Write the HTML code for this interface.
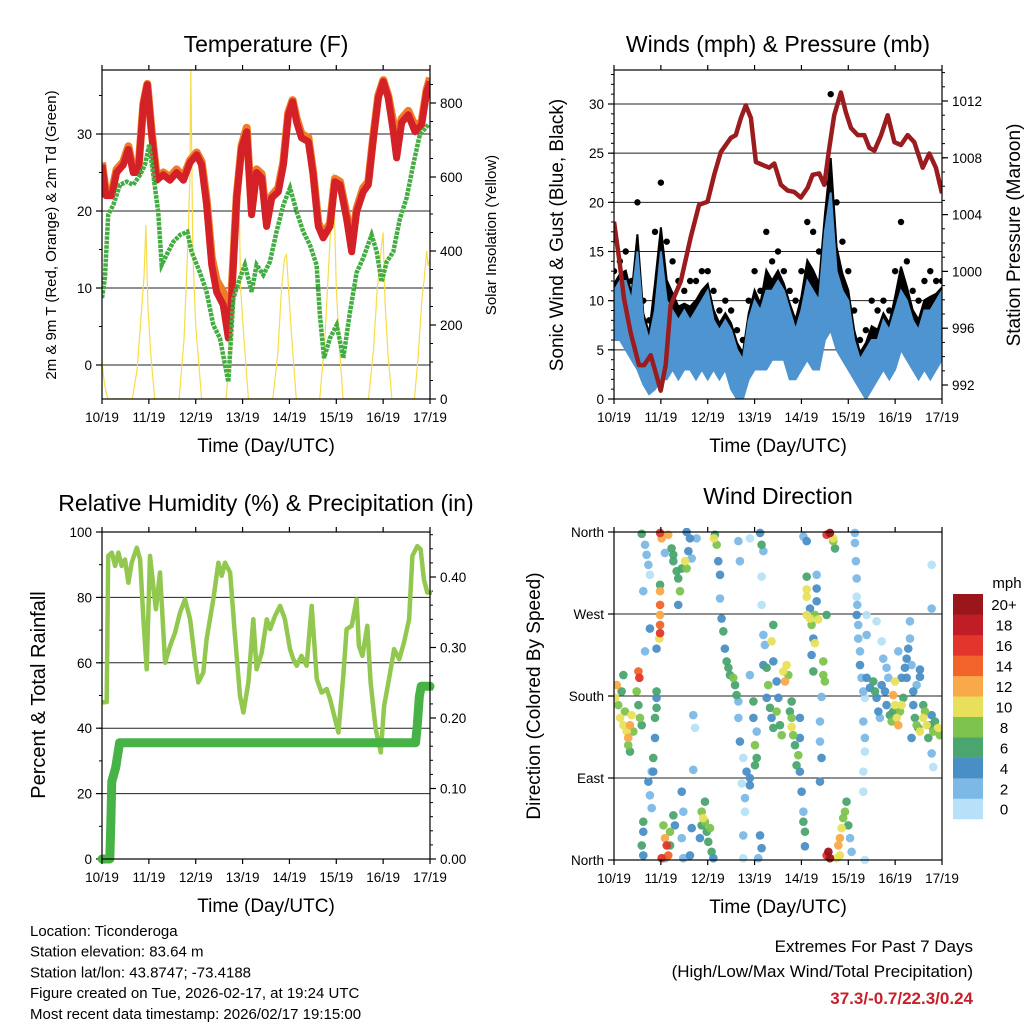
<!DOCTYPE html>
<html><head><meta charset="utf-8"><title>Ticonderoga station plots</title>
<style>
html,body{margin:0;padding:0;background:#fff;}
svg{display:block;font-family:"Liberation Sans",Arial,sans-serif;}
</style></head>
<body>
<svg id="chart" width="1024" height="1024" viewBox="0 0 1024 1024" xmlns="http://www.w3.org/2000/svg"></svg>
<script>
// ---------- DATA ----------
const dayLabels = ['10/19','11/19','12/19','13/19','14/19','15/19','16/19','17/19'];
// Temperature (F)
const t2mHours = [0,2,5,7.5,10.9,13.5,16,18.6,21.2,23.2,25.4,28,31.4,34.8,38.2,41.7,45.1,48.5,51,53.6,56.2,58.7,62.1,64.7,66.4,69,71.5,74.1,76.6,79.2,81.8,84.3,86.9,90.3,92.9,95.4,97.6,99.7,102.2,105.7,108.2,110.8,113.3,116.8,119.3,121.9,125.3,127.9,130.4,133.8,136.4,139,141.5,144.1,146.6,149.2,150.9,153.5,156.9,160.3,163.7,166.3,168];
const temp2m = [26,22,22,25,26,28,25,25,33.8,36.4,30,24,24.7,24,25,24,26.3,27.3,26,20.8,13,9.5,7.8,3.5,8.7,21.7,28.2,30.3,19.5,25,24.3,18,21.7,22.5,26,32.5,34.2,31.5,29.5,29,24.7,18,16.5,18,23.8,23.4,19,14.7,19.9,22.5,23.4,29.5,34.7,36.8,34.7,30.3,26.9,31.5,32.5,30.3,31.2,35.5,36.8];
const temp9m = [26.3,22.4,22.5,25.4,26.4,28.4,25.4,25.3,34,36.5,30.4,24.4,25,24.4,25.4,24.4,26.6,27.6,26.4,21.5,14,11,9.5,5,9.5,22,28.5,30.8,20,25.4,24.8,18.6,22,23,26.4,32.8,34.4,32,30,29.5,25,18.5,17,18.4,24.2,23.8,19.6,15.5,20.3,23,23.8,29.8,35,37,35,31.5,29,32,33,31,31.6,35.8,37.3];
const tdHours = [0,1.5,3.2,5.8,9.2,12.6,16,19.5,22,24.2,26.3,28.8,30.6,33.1,36.5,40,43.7,45.9,50.2,53.6,57,60.4,64.7,67.3,70.7,73.2,76.6,79.2,82.6,86,89.4,92.9,96.3,99.7,103.1,106.5,109.9,111.6,113.7,116.8,120.2,123.6,127,130.4,133.8,138.1,140.7,143.2,145.8,149.2,152.6,156,159.4,162.8,167.1];
const dew2m = [8.7,11.3,19.5,20.8,23.4,23.8,23.4,24.7,26,28.6,24.7,19.9,13,14.3,16,16.9,17.3,14.7,12,9.5,5.2,3.5,-2.2,8.7,11.3,13,9.5,13,11.7,13.4,17.3,20.8,23,19.9,17.3,15.6,13,6.5,0.9,3.5,5.2,0.9,6.9,12,13.9,16.9,14.7,10.8,13.4,14.7,19,21.7,26,29.9,31.2];
const solarHours = [0,1,2,3, 15.5,18,20,21.5,22.5,23.5,25,27, 39.5,42,44,45,45.5,46.5,48,51, 63.5,66,68,69,70,71,72.5,75, 87.5,90,92,93.5,94.5,96,97.5,99.5, 111.5,114,116,117.5,118.5,120,121.5,123.5, 136.5,139,141,142.5,144,145,146.5,148.5, 160,162,164,165,166.3,167,168];
const solarValues = [100,50,20,0, 0,80,220,330,470,250,120,0, 0,160,420,600,890,400,200,0, 0,150,400,560,600,300,180,0, 0,120,300,380,390,260,140,0, 0,150,350,500,610,300,150,0, 0,130,300,380,450,260,120,0, 0,120,280,320,400,360,380];
// Winds (mph) every 3 hours
const windHours = [0,3,6,9,12,15,18,21,24,27,30,33,36,39,42,45,48,51,54,57,60,63,66,69,72,75,78,81,84,87,90,93,96,99,102,105,108,111,114,117,120,123,126,129,132,135,138,141,144,147,150,153,156,159,162,165,168];
const windLow = [6,6,5,4,3,1.5,0.5,1,2,2,3,2,3,3,2,3,2,3,2,3,1,0,0,2,3,3,3,4,4,4,2,2,3,4,3,3,6,7,5,4,3,2,1,0,1,2,3,2,3,5,4,3,2,3,2,3,4];
const windHigh = [11,12,12,10,15,8,6,9,15,10,9,8,9,8,9,10,11,8,7,8,7,5,4,8,10,9,11,11,12,11,9,7,9,12,11,10,17,21,13,11,10,6,4,5,6,6,8,7,9,11,10,8,7,9,9,10,11];
const windGust = [13,14,15,12,20,10,8,17,22,16,14,12,11,12,12,13,13,11,9,10,9,7,6,10,13,11,17,14,15,13,11,10,13,18,17,15,22,31,20,16,13,9,6,7,10,9,10,9,13,18,14,11,10,12,13,12,12];
// Station pressure (mb)
const presHours = [0,2.6,5.1,8.5,12.8,15.4,18.8,21.3,23.9,26.5,29.0,34.2,39.3,43.6,47.9,51.3,54.7,59.8,62.4,65,67.5,70.1,72.7,76.1,79.5,82.1,85.5,88.9,92.3,95.7,99.2,101.7,105.1,107.7,110.3,112.8,116.2,118.8,121.4,124.8,128.2,130.8,133.4,136.8,140.2,143.6,147,150.4,153.8,158.1,161.5,164.9,168];
const pressure = [1003.5,1000.9,998.1,995.7,993.4,993.4,994.1,992.9,991.6,993.4,997.6,999.3,1002.4,1004.7,1004.9,1006.8,1008.4,1009.4,1009.6,1010.8,1011.7,1010.8,1007.7,1007.5,1007.3,1007.6,1006.1,1005.7,1005.6,1005.2,1005.9,1006.8,1006.9,1006.1,1008.7,1011,1012.6,1011.2,1010.1,1009.6,1009.6,1008.7,1008.5,1009.6,1011,1009.1,1008.9,1009.6,1009.1,1007.3,1008.3,1007.3,1005.5];
// Relative humidity (%)
const rhHours = [0,2.4,3.2,5,6.7,8.4,10.1,11.8,13.5,15.2,17.8,19.5,21.2,22.9,24.6,26.3,27.6,29.7,32.3,34.8,37.4,40,42.5,45.1,47.6,49.3,51.9,53.6,57,59.6,61.3,63,65.6,68.1,70.7,72.4,75,77.5,79.2,81.8,84.4,86.1,88.6,91.2,93.7,96.3,98,99.7,102.2,104.8,107.4,110,112.5,115.1,116.8,118.5,121.1,123.6,125.3,127.9,130.4,131.6,133.4,135.9,137.6,140.2,142.8,144.5,147,149.6,152.2,154.7,157.3,159,161.5,163.2,164.9,166.6,169];
const rhValues = [47.9,48,92.7,93.7,89.6,93.7,89.6,91.6,84.5,90.6,95.2,91.6,73.3,58,92.7,83.5,76.4,87.6,60,65,69.2,75.4,79.4,73.3,61.1,54,57,67.2,79.4,90.6,86.6,90.6,87.6,68.2,49.9,44.8,54,73.3,58,63.1,73.3,70.3,74.3,77.4,73.3,64.2,61.1,59.1,62.1,59.1,77.4,55,50.9,52,48.9,44.8,38.7,56,70.3,71.3,79.4,65.2,62.1,71.3,54,39.7,32.6,46.8,55,64.2,61.1,66.2,73.3,92.7,95.7,94.7,85.5,81.5,81.5];
// Precipitation (in, cumulative)
const precipHours = [0,4,4.5,5,7,9,160.6,161.5,162.5,163.5,168];
const precipValues = [0,0,0.05,0.11,0.13,0.165,0.165,0.19,0.23,0.245,0.245];
// Wind direction scatter
const dirHours = [
0.5,1.4,2.2,3.1,3.9,4.8,4.8,5.6,6.5,7.3,8.2,7.3,8.2,9,9.9,
12.5,13,11.6,12.5,13.3,14.2,14.2,15.9,16.7,17.6,18.4,15,15,15,14.2,15,15.9,18.4,19.3,17.6,18.4,19.3,
23.6,24.4,23.6,23.6,23.6,23.6,23.6,23.6,23.2,21.8,21.8,21.8,21.8,21,21,20.1,20.1,25.3,26.1,27,24.4,27.8,28.7,28.7,26.1,27.8,29.5,30.4,32.1,30.4,26.1,
32.9,33.8,32.9,34.7,36.4,37.2,38.1,38.9,37.2,39.8,42.3,40.6,41.5,40.6,34.7,35.5,30.4,31.2,34.7,39.8,38.9,35.5,
44.9,46.6,47.5,49.2,44,45.7,48.3,50,46.6,44.9,50.9,
51.7,52.6,51.2,53.4,54.3,63.7,64.5,54.3,55.1,56,56.8,57.7,58.6,59.4,61.1,62,62.8,63.7,63.7,64.5,66.2,65.4,67.9,69.6,67.1,67.1,66.2,66.2,
69.6,74.8,75.6,76.5,75.6,75.6,69.6,71.4,71.4,73.1,72.2,73.1,72.2,69.6,74.8,75.6,73.9,76.5,77.3,76.5,
78.2,79,78.2,79.9,80.7,81.6,83.3,84.2,85,85.9,86.7,87.6,88.4,89.3,80.7,81.6,81.6,83.3,91,91,91.8,92.7,94.4,95.2,96.1,97,97.8,97.8,95.2,95.2,93.5,97,91,90.1,
97,98.7,98.7,98.7,98.7,100.4,103.8,103.8,98.7,100.4,102.9,104.6,101.2,102.1,102.9,101.2,102.1,107.2,107.2,108,106.3,105.5,105.5,106.3,105.5,103.8,108.9,108.9,110.6,112.3,113.2,112.3,109.8,110.6,108.9,114.9,115.7,116.6,117.4,118.3,119.1,120,120.9,121.7,115.7,114,
123.4,123.4,123.9,124.3,124.3,124.6,124.3,125.1,125.1,126,126,126.8,127.7,128.5,129.4,129.4,127.7,128.5,128.5,127.7,127.7,129.4,131.1,132.8,133.7,134.5,135.4,136.2,134.5,137.1,137.9,128.5,
137.1,138.8,139.6,140.5,139.6,141.3,142.2,143,143.9,143.9,144.8,145.6,146.5,147.3,148.2,143,149,149.9,149.9,150.7,151.6,151.6,152.4,153.3,156.7,156.7,155,145.6,147.3,
153.3,154.1,155,156.7,158.4,159.3,160.1,161,161.8,162.7,163.5,164.4,166.1,166.9,158.4,162.7,162.7,162.7,163.5,152.4,155.8];
const dirDeg = [
178,192,170,156,185,203,148,163,141,134,148,126,119,159,141,
207,200,185,170,156,148,358,346,335,324,313,295,42,31,16,5,229,254,97,86,71,57,
359,353,302,295,280,269,258,249,243,232,185,178,167,156,134,112,97,38,24,16,2,5,16,31,2,357,342,328,317,335,337,
309,295,280,320,328,320,339,353,360,331,353,159,145,99,75,53,49,38,24,35,5,2,
38,42,31,35,24,46,20,9,64,53,2,
357,346,353,328,313,350,328,287,265,251,232,218,211,203,200,192,181,174,156,130,112,84,97,82,68,53,27,2,
353,359,346,339,311,280,203,174,156,141,126,112,104,90,27,13,2,247,236,214,
211,192,178,167,156,145,163,178,148,137,207,196,214,203,240,258,218,196,174,156,137,126,115,97,75,53,31,15,156,134,104,42,146,163,
355,350,311,297,289,276,298,284,269,265,269,264,258,243,238,225,207,218,203,196,179,152,130,112,86,313,269,357,359,353,342,350,9,2,5,16,24,35,46,53,64,38,24,9,5,2,
359,348,328,309,289,280,269,258,243,229,214,200,185,178,269,247,152,134,119,97,75,200,189,196,185,178,163,156,262,240,221,0,
192,185,170,200,211,159,152,181,196,170,156,148,163,170,178,163,211,221,200,232,262,243,214,185,209,201,192,229,200,
170,156,148,141,156,163,148,134,148,159,141,152,145,137,170,276,324,117,102,134,145];
const dirSpeed = [
10,12,8,10,6,6,10,8,10,12,12,8,6,10,8,
14,16,8,6,8,6,6,2,2,2,0.5,2,6,4,6,4,2,4,2,4,2,2,
16,12,6,12,14,12,14,16,10,4,6,4,6,6,4,6,4,8,12,16,16,14,6,8,2,12,6,6,6,6,2,
6,8,4,6,10,8,4,4,4,2,2,2,0.5,2,4,2,6,4,2,4,4,2,
6,8,6,8,4,10,6,6,6,8,4,
6,8,10,4,4,2,2,2,4,6,4,6,6,6,8,6,6,2,2,4,0.5,0.5,4,4,2,0.5,2,0.5,
0.5,4,6,2,0.5,0.5,2,6,4,2,8,6,6,4,4,4,2,2,2,4,
6,8,4,6,4,6,8,4,6,8,10,12,10,8,10,6,4,4,6,8,8,6,8,4,4,2,6,4,4,4,6,6,10,6,
2,4,6,10,10,4,4,4,10,10,8,10,8,4,10,4,6,8,8,8,2,2,2,4,4,2,6,16,21,10,6,8,21,21,16,12,12,10,8,8,6,6,2,2,10,10,
2,2,2,2,0.5,2,4,2,2,2,4,2,2,0.5,0.5,2,2,2,0.5,0.5,0.5,4,4,6,6,4,4,2,0.5,0.5,2,0.5,
4,4,4,2,2,6,8,12,10,10,10,12,8,10,6,6,4,4,4,4,2,2,2,4,4,4,2,2,4,
4,6,8,10,10,8,10,6,6,4,8,6,10,8,6,2,0.5,2,0.5,4,6];
const speedLabels = ['0','2','4','6','8','10','12','14','16','18','20+'];
const speedColors = ['#b6e1f8','#7cb9e6','#4a8ec6','#4aa56f','#7dc34e','#e8e05a','#f9a94a','#f26429','#e2352b','#c11d27','#9a161b'];

// ---------- HELPERS ----------
const NS = 'http://www.w3.org/2000/svg';
const svg = document.getElementById('chart');
function mk(tag, attrs, parent) {
  const e = document.createElementNS(NS, tag);
  for (const k in attrs) e.setAttribute(k, attrs[k]);
  (parent || svg).appendChild(e);
  return e;
}
function lin(d0, d1, r0, r1) { return v => r0 + (v - d0) * (r1 - r0) / (d1 - d0); }
function txt(x, y, s, size, anchor, parent, extra) {
  const t = mk('text', Object.assign({x: x, y: y, 'font-size': size, 'text-anchor': anchor || 'middle', fill: '#000'}, extra || {}), parent);
  t.textContent = s;
  return t;
}
function pathFrom(xs, ys, fx, fy) {
  let d = '';
  for (let i = 0; i < xs.length; i++) d += (i ? 'L' : 'M') + fx(xs[i]).toFixed(1) + ',' + fy(ys[i]).toFixed(1);
  return d;
}

function frame(g, P, name) {
  const r = mk('rect', {x: P.x0, y: P.y0, width: P.x1 - P.x0, height: P.y1 - P.y0, fill: 'none', stroke: '#000', 'stroke-width': 1.2}, g);
  
  
}
function xAxis(g, P, fx, name) {
  const ax = mk('g', {}, g);
  
  
  for (let i = 0; i < dayLabels.length; i++) {
    const x = fx(i * 24);
    mk('line', {x1: x, x2: x, y1: P.y1, y2: P.y1 + 5, stroke: '#000', 'stroke-width': 1.2}, ax);
    mk('line', {x1: x, x2: x, y1: P.y0, y2: P.y0 - 5, stroke: '#000', 'stroke-width': 1.2}, ax);
    const t = txt(x, P.y1 + 23, dayLabels[i], 13.5, 'middle', ax);
    
    
  }
  const tt = txt((P.x0 + P.x1) / 2, P.y1 + 53, 'Time (Day/UTC)', 19, 'middle', ax);
  
  
}
function yAxis(g, P, fy, majors, labels, minorStep, side, name, grid) {
  const ax = mk('g', {}, g);
  
  
  const xe = side === 'left' ? P.x0 : P.x1;
  const dir = side === 'left' ? -1 : 1;
  if (minorStep) {
    const lo = Math.ceil(Math.min(fy.inv(P.y1), fy.inv(P.y0)) / minorStep) * minorStep;
    const hi = Math.max(fy.inv(P.y1), fy.inv(P.y0));
    for (let v = lo; v <= hi + 1e-9; v += minorStep) {
      const y = fy(v);
      mk('line', {x1: xe, x2: xe + dir * 3, y1: y, y2: y, stroke: '#000', 'stroke-width': 1}, ax);
    }
  }
  for (let i = 0; i < majors.length; i++) {
    const y = fy(majors[i]);
    mk('line', {x1: xe, x2: xe + dir * 6, y1: y, y2: y, stroke: '#000', 'stroke-width': 1.2}, ax);
    if (grid) mk('line', {x1: P.x0, x2: P.x1, y1: y, y2: y, stroke: '#222', 'stroke-width': 1}, ax);
    const t = txt(xe + dir * 10, y + 5, labels[i], 13.5, side === 'left' ? 'end' : 'start', ax);
    
    
  }
}
function scaleY(d0, d1, r0, r1) { const f = lin(d0, d1, r0, r1); f.inv = lin(r0, r1, d0, d1); return f; }
function rotTitle(g, x, y, s, size, name) {
  const t = txt(x, y, s, size, 'middle', g, {transform: 'rotate(-90 ' + x + ' ' + y + ')'});
  
  
}
function title(g, x, y, s, name) {
  const t = txt(x, y, s, 23, 'middle', g);
  
  
}

// ---------- PANEL 1: TEMPERATURE ----------
(function () {
  const P = {x0: 102, x1: 430, y0: 70, y1: 399};
  const g = mk('g', {});
  
  
  const fx = lin(0, 168, P.x0, P.x1);
  const fy = scaleY(0, 30, 365, 134);
  const fs = scaleY(0, 800, 399, 103);
  const clip = mk('clipPath', {id: 'c1'}, g);
  mk('rect', {x: P.x0, y: P.y0, width: P.x1 - P.x0, height: P.y1 - P.y0}, clip);
  yAxis(g, P, fy, [0, 10, 20, 30], ['0', '10', '20', '30'], 5, 'left', 'temperature-y-axis', true);
  yAxis(g, P, fs, [0, 200, 400, 600, 800], ['0', '200', '400', '600', '800'], 50, 'right', 'solar-y-axis', false);
  const s = mk('path', {d: pathFrom(solarHours, solarValues, fx, fs), fill: 'none', stroke: '#f7dc4a', 'stroke-width': 1.2, 'clip-path': 'url(#c1)'}, g);
  
  
  const o = mk('path', {d: pathFrom(t2mHours, temp9m, fx, fy), fill: 'none', stroke: '#f07c28', 'stroke-width': 8, 'stroke-linejoin': 'round', 'clip-path': 'url(#c1)'}, g);
  
  
  const r = mk('path', {d: pathFrom(t2mHours, temp2m, fx, fy), fill: 'none', stroke: '#d42027', 'stroke-width': 7, 'stroke-linejoin': 'round', 'clip-path': 'url(#c1)'}, g);
  
  
  const d = mk('path', {d: pathFrom(tdHours, dew2m, fx, fy), fill: 'none', stroke: '#43ad43', 'stroke-width': 4.5, 'stroke-dasharray': '3.5 1', 'clip-path': 'url(#c1)'}, g);
  
  
  frame(g, P, 'temperature');
  xAxis(g, P, fx, 'temperature');
  title(g, 266, 52, 'Temperature (F)', 'temperature-title');
  rotTitle(g, 56, 235, '2m & 9m T (Red, Orange) & 2m Td (Green)', 15, 'temperature-y-title');
  rotTitle(g, 496, 235, 'Solar Insolation (Yellow)', 15, 'solar-y-title');
})();

// ---------- PANEL 2: WINDS & PRESSURE ----------
(function () {
  const P = {x0: 614, x1: 942, y0: 70, y1: 399};
  const g = mk('g', {});
  
  
  const fx = lin(0, 168, P.x0, P.x1);
  const fy = scaleY(0, 30, 399, 104);
  const fp = scaleY(992, 1012, 385, 101);
  const clip = mk('clipPath', {id: 'c2'}, g);
  mk('rect', {x: P.x0, y: P.y0, width: P.x1 - P.x0, height: P.y1 - P.y0}, clip);
  yAxis(g, P, fy, [0, 5, 10, 15, 20, 25, 30], ['0', '5', '10', '15', '20', '25', '30'], 1, 'left', 'wind-y-axis', true);
  yAxis(g, P, fp, [992, 996, 1000, 1004, 1008, 1012], ['992', '996', '1000', '1004', '1008', '1012'], 1, 'right', 'pressure-y-axis', false);
  let up = '', dn = '';
  for (let i = 0; i < windHours.length; i++) {
    up += (i ? 'L' : 'M') + fx(windHours[i]).toFixed(1) + ',' + fy(windHigh[i] + 0.35 * (windGust[i] - windHigh[i])).toFixed(1);
  }
  for (let i = windHours.length - 1; i >= 0; i--) dn += 'L' + fx(windHours[i]).toFixed(1) + ',' + fy(windHigh[i]).toFixed(1);
  const gb = mk('path', {d: up + dn + 'Z', fill: '#000', stroke: '#000', 'stroke-width': 2, 'clip-path': 'url(#c2)'}, g);
  
  
  for (let i = 0; i < windHours.length; i++) {
    const c = mk('circle', {cx: fx(windHours[i]), cy: fy(windGust[i]), r: 3.2, fill: '#000', 'clip-path': 'url(#c2)'}, g);
    
    
  }
  let a = '', b = '';
  for (let i = 0; i < windHours.length; i++) a += (i ? 'L' : 'M') + fx(windHours[i]).toFixed(1) + ',' + fy(windHigh[i]).toFixed(1);
  for (let i = windHours.length - 1; i >= 0; i--) b += 'L' + fx(windHours[i]).toFixed(1) + ',' + fy(windLow[i]).toFixed(1);
  const wb = mk('path', {d: a + b + 'Z', fill: '#4d94d1', stroke: '#4d94d1', 'stroke-width': 2, 'clip-path': 'url(#c2)'}, g);
  
  
  const p = mk('path', {d: pathFrom(presHours, pressure, fx, fp), fill: 'none', stroke: '#9b1c1f', 'stroke-width': 4.5, 'stroke-linejoin': 'round', 'clip-path': 'url(#c2)'}, g);
  
  
  frame(g, P, 'winds');
  xAxis(g, P, fx, 'winds');
  title(g, 778, 52, 'Winds (mph) & Pressure (mb)', 'winds-title');
  rotTitle(g, 563, 235, 'Sonic Wind & Gust (Blue, Black)', 19, 'wind-y-title');
  rotTitle(g, 1020, 235, 'Station Pressure (Maroon)', 19, 'pressure-y-title');
})();

// ---------- PANEL 3: RH & PRECIP ----------
(function () {
  const P = {x0: 102, x1: 430, y0: 532, y1: 859};
  const g = mk('g', {});
  
  
  const fx = lin(0, 168, P.x0, P.x1);
  const fy = scaleY(0, 100, 859, 532);
  const fr = scaleY(0, 0.4, 859, 577);
  const clip = mk('clipPath', {id: 'c3'}, g);
  mk('rect', {x: P.x0 - 5, y: P.y0, width: P.x1 - P.x0 + 10, height: P.y1 - P.y0 + 5}, clip);
  yAxis(g, P, fy, [0, 20, 40, 60, 80, 100], ['0', '20', '40', '60', '80', '100'], 10, 'left', 'rh-y-axis', true);
  yAxis(g, P, fr, [0, 0.1, 0.2, 0.3, 0.4], ['0.00', '0.10', '0.20', '0.30', '0.40'], 0.02, 'right', 'precip-y-axis', false);
  const rh = mk('path', {d: pathFrom(rhHours, rhValues, fx, fy), fill: 'none', stroke: '#92c84f', 'stroke-width': 4.5, 'stroke-linejoin': 'round', 'clip-path': 'url(#c3)'}, g);
  
  
  const pr = mk('path', {d: pathFrom(precipHours, precipValues, fx, fr), fill: 'none', stroke: '#47b347', 'stroke-width': 9, 'stroke-linejoin': 'round', 'stroke-linecap': 'round', 'clip-path': 'url(#c3)'}, g);
  
  
  frame(g, P, 'humidity');
  xAxis(g, P, fx, 'humidity');
  title(g, 266, 511, 'Relative Humidity (%) & Precipitation (in)', 'humidity-title');
  rotTitle(g, 45, 695, 'Percent & Total Rainfall', 20, 'rh-y-title');
})();

// ---------- PANEL 4: WIND DIRECTION ----------
(function () {
  const P = {x0: 614, x1: 942, y0: 532, y1: 860};
  const g = mk('g', {});
  
  
  const fx = lin(0, 168, P.x0, P.x1);
  const fy = scaleY(0, 360, 860, 532);
  const clip = mk('clipPath', {id: 'c4'}, g);
  mk('rect', {x: P.x0, y: P.y0 - 4, width: P.x1 - P.x0, height: P.y1 - P.y0 + 8}, clip);
  yAxis(g, P, fy, [0, 90, 180, 270, 360], ['North', 'East', 'South', 'West', 'North'], 0, 'left', 'direction-y-axis', true);
  const order = dirSpeed.map((s, i) => i).sort((a, b) => dirSpeed[a] - dirSpeed[b]);
  for (const i of order) {
    const bin = Math.min(10, Math.round(dirSpeed[i] / 2));
    const c = mk('circle', {cx: fx(dirHours[i]), cy: fy(dirDeg[i]), r: 4.3, fill: speedColors[bin], 'fill-opacity': 0.95, 'clip-path': 'url(#c4)'}, g);
    
    
  }
  frame(g, P, 'direction');
  xAxis(g, P, fx, 'direction');
  title(g, 778, 504, 'Wind Direction', 'direction-title');
  rotTitle(g, 540, 696, 'Direction (Colored By Speed)', 19, 'direction-y-title');
  const cb = mk('g', {}, g);
  
  
  const boxH = 20.45;
  for (let i = 0; i < speedColors.length; i++) {
    const y = 594 + (10 - i) * boxH;
    const rct = mk('rect', {x: 953, y: y, width: 30, height: boxH + 0.3, fill: speedColors[i]}, cb);
    
    
    const t = txt(1004, y + boxH / 2 + 6, speedLabels[i], 15, 'middle', cb);
    
    
  }
  const mu = txt(1007, 588, 'mph', 15, 'middle', cb);
  
  
})();

// ---------- FOOTER TEXT ----------
(function () {
  const g = mk('g', {});
  
  
  const lines = ['Location: Ticonderoga', 'Station elevation: 83.64 m', 'Station lat/lon: 43.8747; -73.4188', 'Figure created on Tue, 2026-02-17, at 19:24 UTC', 'Most recent data timestamp: 2026/02/17 19:15:00'];
  for (let i = 0; i < lines.length; i++) {
    const t = txt(30, 936 + i * 20.7, lines[i], 15, 'start', g);
    
    
  }
  const e = mk('g', {});
  
  
  const a = txt(973, 952, 'Extremes For Past 7 Days', 17, 'end', e);
  
  
  const b = txt(973, 977, '(High/Low/Max Wind/Total Precipitation)', 17, 'end', e);
  
  
  const c = txt(973, 1004, '37.3/-0.7/22.3/0.24', 17, 'end', e, {fill: '#c8202a', 'font-weight': 'bold'});
  
  
})();
</script>
</body></html>
